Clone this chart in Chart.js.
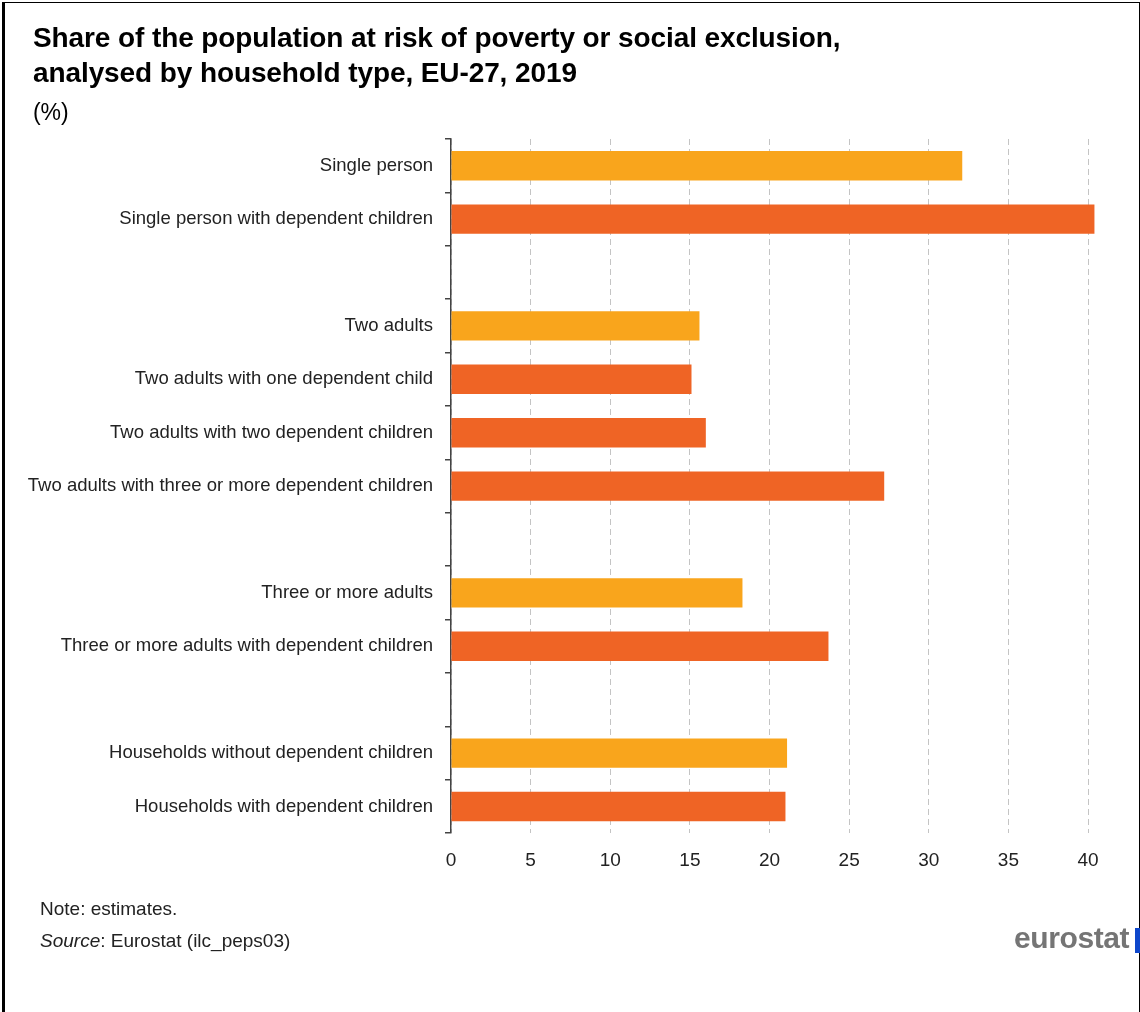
<!DOCTYPE html>
<html>
<head>
<meta charset="utf-8">
<script src="https://cdn.jsdelivr.net/npm/chart.js@4"></script>
<style>
  html, body { margin: 0; padding: 0; background: #fff; }
  body { width: 1140px; height: 1012px; position: relative; overflow: hidden;
         font-family: "Liberation Sans", Arial, sans-serif; color: #000; }
  #frame { position: absolute; left: 2px; top: 2px; width: 1134px; height: 1020px;
           border-left: 3px solid #000; border-top: 1px solid #000; border-right: 1px solid #000; }
  #chartBox { position: absolute; left: 0; top: 0; width: 1140px; height: 1012px; }
  .title { position: absolute; left: 33px; font-weight: bold; font-size: 28px; letter-spacing: -0.1px; }
  .note { position: absolute; left: 40px; font-size: 19px; color: #222; }
  #logo { position: absolute; left: 1014px; top: 921px; font-weight: bold; font-size: 30px;
          color: #757575; letter-spacing: -0.4px; }
  #logoBar { position: absolute; left: 1135px; top: 928px; width: 5px; height: 25px; background: #0e47cb; }
</style>
</head>
<body>
<div id="chartBox"><canvas id="chart" width="1140" height="1012"></canvas></div>
<div id="frame"></div>
<div class="title" style="top:22px">Share of the population at risk of poverty or social exclusion,</div>
<div class="title" style="top:57px">analysed by household type, EU-27, 2019</div>
<div class="title" style="top:99px;font-weight:normal;font-size:23px">(%)</div>
<div class="note" style="top:898px">Note: estimates.</div>
<div class="note" style="top:930px"><i>Source</i>: Eurostat (ilc_peps03)</div>
<div id="logo">eurostat</div>
<div id="logoBar"></div>
<script>
// household types, blank entries are the gaps between groups
const categories = [
  "Single person",
  "Single person with dependent children",
  "",
  "Two adults",
  "Two adults with one dependent child",
  "Two adults with two dependent children",
  "Two adults with three or more dependent children",
  "",
  "Three or more adults",
  "Three or more adults with dependent children",
  "",
  "Households without dependent children",
  "Households with dependent children",
];
const shares = [32.1, 40.4, null, 15.6, 15.1, 16.0, 27.2, null, 18.3, 23.7, null, 21.1, 21.0];
const withChildren = [false, true, null, false, true, true, true, null, false, true, null, false, true];
const xTicks = [0, 5, 10, 15, 20, 25, 30, 35, 40];

const NO_CHILD = "#f9a51c";
const CHILD = "#ef6425";
const LABEL_FONT = "'Liberation Sans', Arial, sans-serif";

const ctx = document.getElementById("chart").getContext("2d");
const chart = new Chart(ctx, {
  type: "bar",
  data: {
    labels: categories,
    datasets: [
      {
        data: shares,
        backgroundColor: withChildren.map((c) => (c ? CHILD : NO_CHILD)),
        borderWidth: 0,
        barPercentage: 0.55,
        categoryPercentage: 1,
      },
    ],
  },
  options: {
    indexAxis: "y",
    responsive: false,
    animation: false,
    layout: { padding: { top: 139, right: 36, bottom: 124, left: 0 } },
    plugins: { legend: { display: false }, tooltip: { enabled: false } },
    scales: {
      x: {
        min: 0,
        max: 41,
        afterBuildTicks: (scale) => {
          scale.ticks = xTicks.map((v) => ({ value: v }));
        },
        border: { display: false, dash: [6, 4] },
        grid: {
          color: "#c4c4c4",
          lineWidth: 1,
          drawTicks: false,
        },
        ticks: {
          color: "#222",
          padding: 16,
          font: { family: LABEL_FONT, size: 19 },
        },
      },
      y: {
        afterFit: (scale) => {
          scale.width = 451;
        },
        border: { display: true, color: "#444", width: 1.5 },
        grid: {
          offset: true,
          drawOnChartArea: false,
          drawTicks: true,
          tickLength: 6,
          color: "#444",
          lineWidth: 1.5,
        },
        ticks: {
          color: "#222",
          padding: 12,
          autoSkip: false,
          font: { family: LABEL_FONT, size: 18.5 },
        },
      },
    },
  },
});
</script>
</body>
</html>
